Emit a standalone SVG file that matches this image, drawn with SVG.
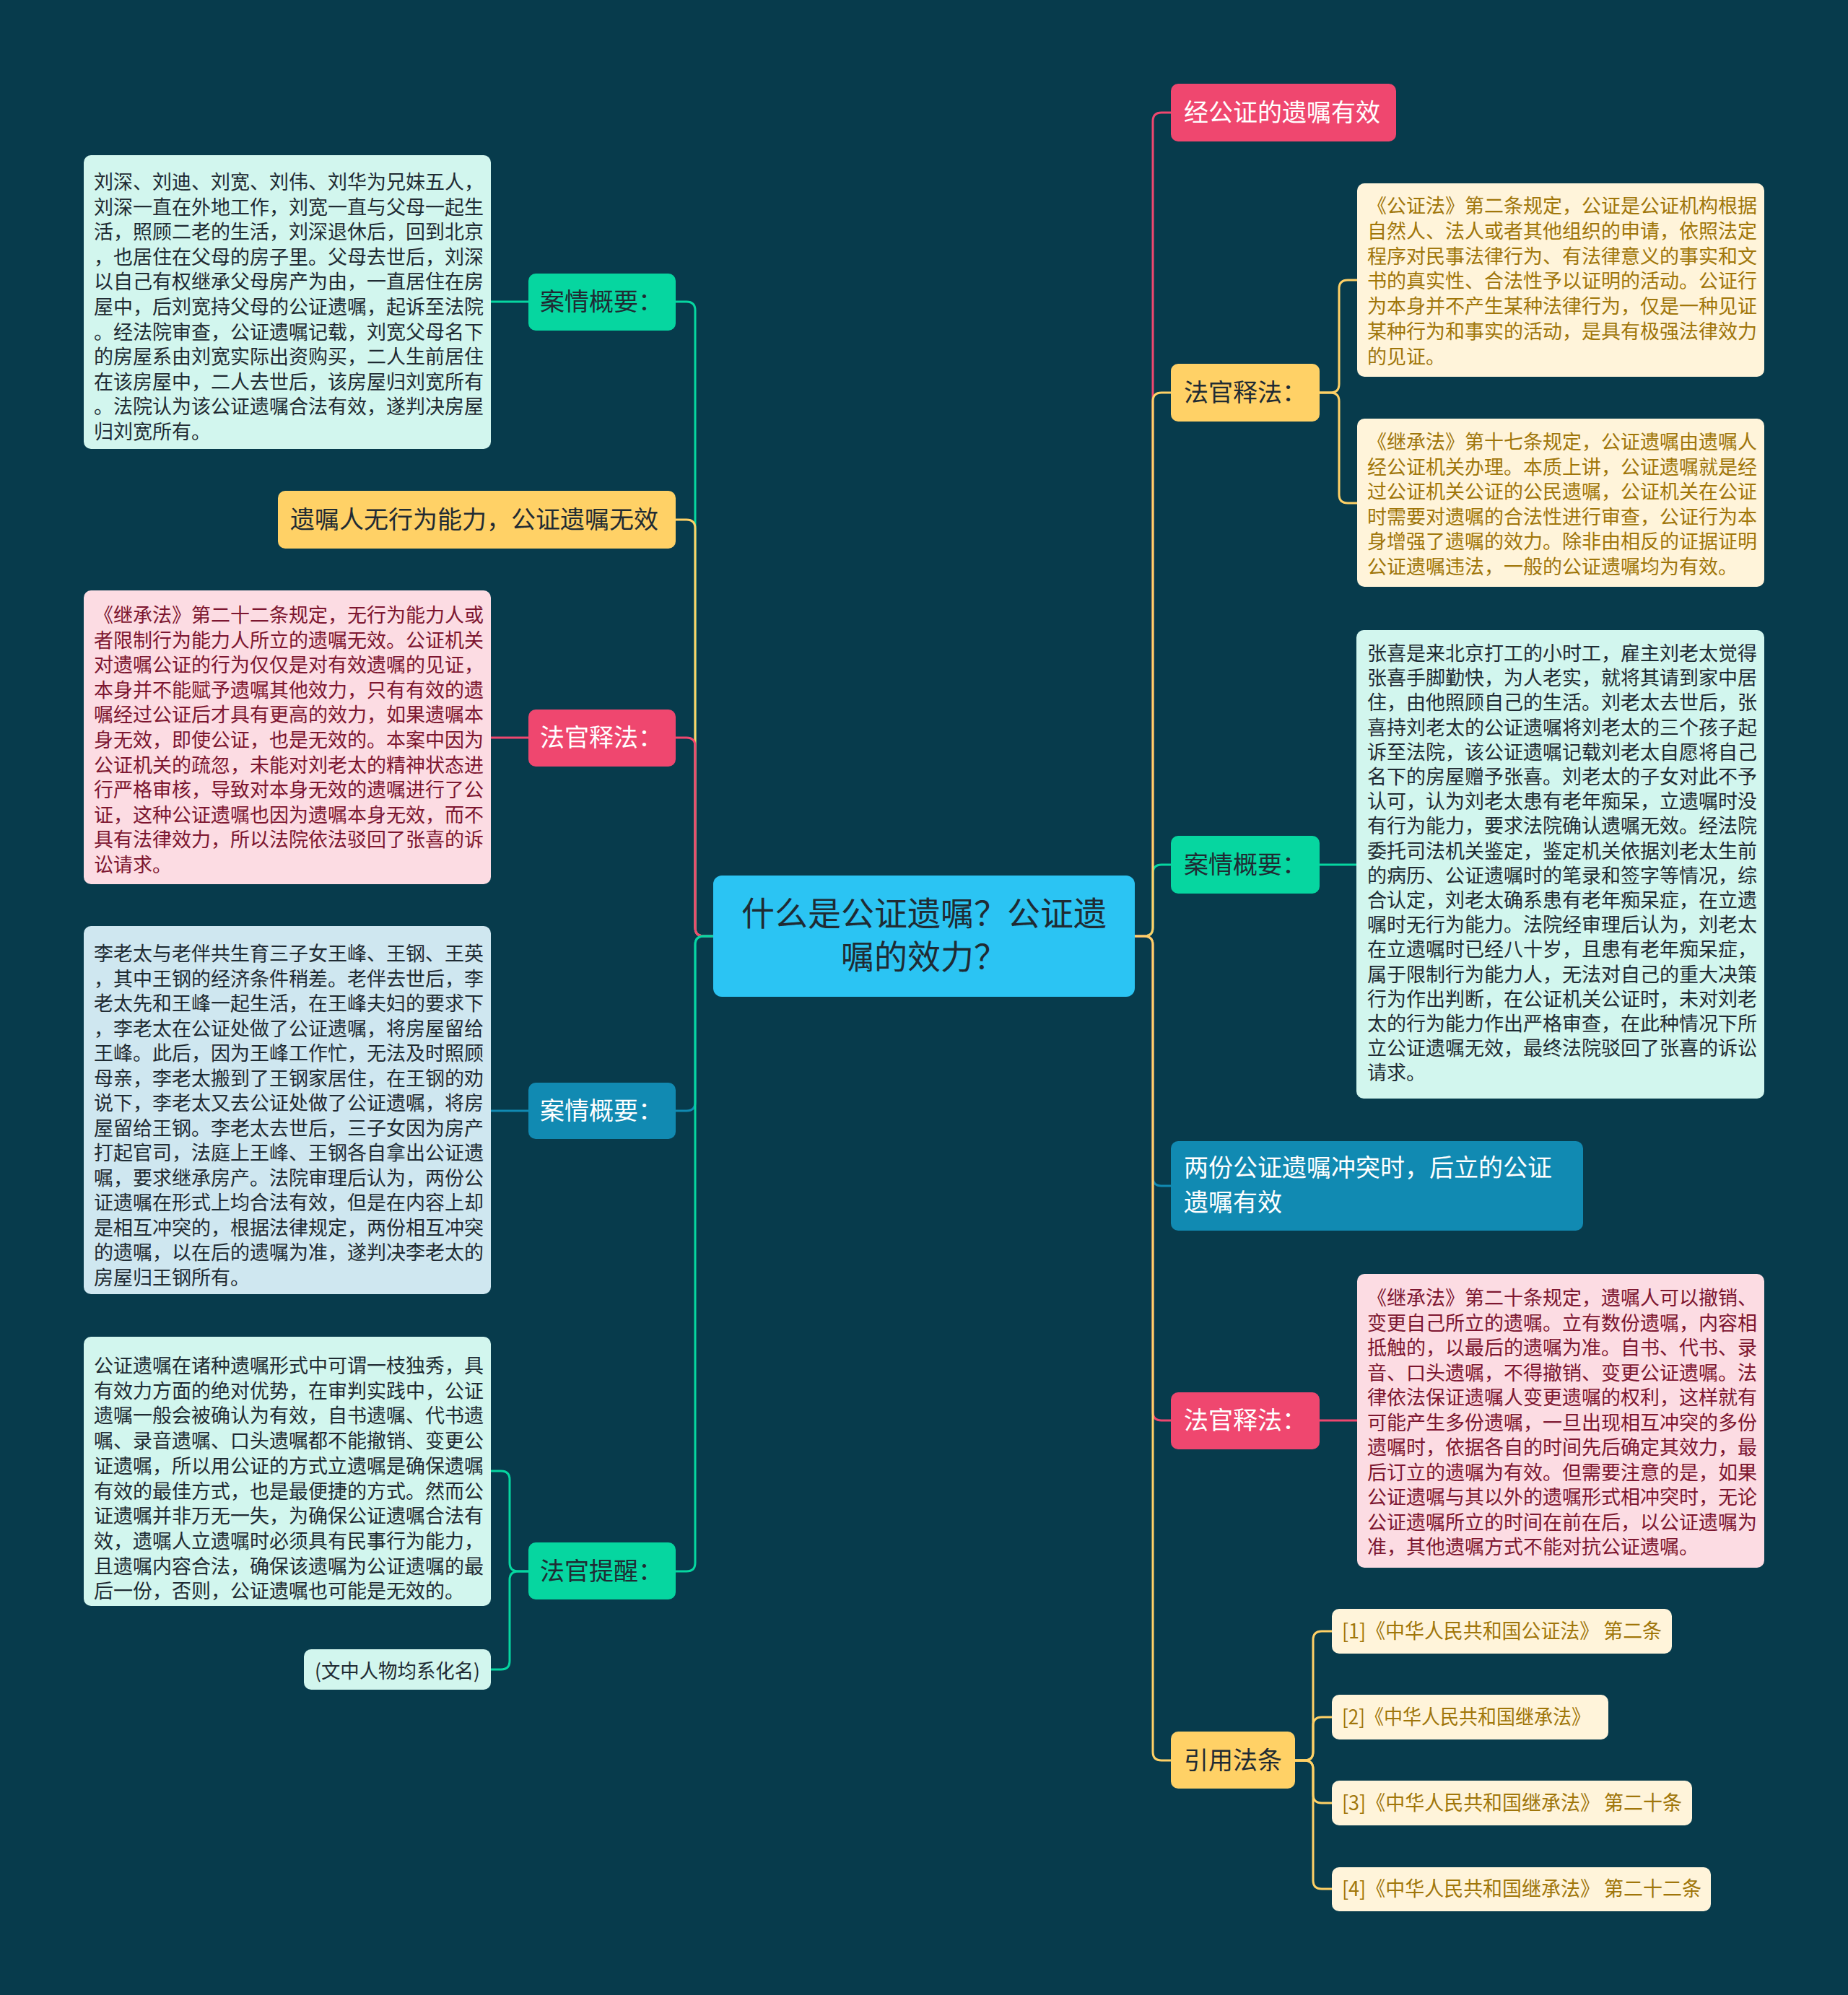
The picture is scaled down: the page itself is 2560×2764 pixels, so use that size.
<svg xmlns="http://www.w3.org/2000/svg" width="2560" height="2764" viewBox="0 0 2560 2764">
<style>
text{font-family:"Noto Sans CJK SC","Noto Sans",sans-serif}
.lf{font-size:27px}
.n1{font-size:34px}
.dk{fill:#1f2b33}
.wt{fill:#ffffff}
.rd{fill:#7d1630}
.gd{fill:#a0760a}
.c{fill:none;stroke-width:3;stroke-linecap:round}
.cT{stroke:#06d6a0}.cY{stroke:#ffd166}.cP{stroke:#ef476f}.cB{stroke:#118ab2}
</style>
<rect width="2560" height="2764" fill="#073b4c"/>
<g id="connectors">
<path class="c cT" d="M988 1297H975Q963 1297 963 1285V430Q963 418 951 418H936"/>
<path class="c cY" d="M988 1297H975Q963 1297 963 1285V732Q963 720 951 720H936"/>
<path class="c cP" d="M988 1297H975Q963 1297 963 1285V1034Q963 1022 951 1022H936"/>
<path class="c cB" d="M988 1297H975Q963 1297 963 1309V1527Q963 1539 951 1539H936"/>
<path class="c cT" d="M988 1297H975Q963 1297 963 1309V2165Q963 2177 951 2177H936"/>
<path class="c cT" d="M732 418H680"/>
<path class="c cP" d="M732 1022H680"/>
<path class="c cB" d="M732 1539H680"/>
<path class="c cT" d="M732 2177H718Q706 2177 706 2165V2050Q706 2038 694 2038H680"/>
<path class="c cT" d="M732 2177H718Q706 2177 706 2189V2301Q706 2313 694 2313H680"/>
<path class="c cP" d="M1572 1297H1585Q1597 1297 1597 1285V168Q1597 156 1609 156H1622"/>
<path class="c cT" d="M1572 1297H1585Q1597 1297 1597 1285V1210Q1597 1198 1609 1198H1622"/>
<path class="c cY" d="M1572 1297H1585Q1597 1297 1597 1285V556Q1597 544 1609 544H1622"/>
<path class="c cB" d="M1572 1297H1585Q1597 1297 1597 1309V1631Q1597 1643 1609 1643H1622"/>
<path class="c cP" d="M1572 1297H1585Q1597 1297 1597 1309V1956Q1597 1968 1609 1968H1622"/>
<path class="c cY" d="M1572 1297H1585Q1597 1297 1597 1309V2427Q1597 2439 1609 2439H1622"/>
<path class="c cY" d="M1828 544H1843Q1855 544 1855 532V400Q1855 388 1867 388H1880"/>
<path class="c cY" d="M1828 544H1843Q1855 544 1855 556V685Q1855 697 1867 697H1880"/>
<path class="c cT" d="M1828 1198H1879"/>
<path class="c cP" d="M1828 1968H1880"/>
<path class="c cY" d="M1794 2439H1807Q1819 2439 1819 2427V2272Q1819 2260 1831 2260H1845"/>
<path class="c cY" d="M1794 2439H1807Q1819 2439 1819 2427V2391Q1819 2379 1831 2379H1845"/>
<path class="c cY" d="M1794 2439H1807Q1819 2439 1819 2451V2486Q1819 2498 1831 2498H1845"/>
<path class="c cY" d="M1794 2439H1807Q1819 2439 1819 2451V2605Q1819 2617 1831 2617H1845"/>
</g>
<g id="center">
<rect x="988" y="1213" width="584" height="168" rx="12" fill="#2bc4f3"/>
<text x="1280" y="1282" font-size="46" text-anchor="middle" class="dk">什么是公证遗嘱？公证遗</text>
<text x="1280" y="1342" font-size="46" text-anchor="middle" class="dk">嘱的效力？</text>
</g>
<g id="L1">
<rect x="732" y="379" width="204" height="79" rx="10" fill="#06d6a0"/>
<text x="748" y="430" class="n1 dk">案情概要：</text>
</g>
<g id="L2">
<rect x="385" y="680" width="551" height="80" rx="10" fill="#ffd166"/>
<text x="402" y="732" class="n1 dk">遗嘱人无行为能力，公证遗嘱无效</text>
</g>
<g id="L3">
<rect x="732" y="983" width="204" height="79" rx="10" fill="#ef476f"/>
<text x="748" y="1034" class="n1 wt">法官释法：</text>
</g>
<g id="L4">
<rect x="732" y="1500" width="204" height="78" rx="10" fill="#118ab2"/>
<text x="748" y="1551" class="n1 wt">案情概要：</text>
</g>
<g id="L5">
<rect x="732" y="2137" width="204" height="79" rx="10" fill="#06d6a0"/>
<text x="748" y="2189" class="n1 dk">法官提醒：</text>
</g>
<g id="LB1">
<rect x="116" y="215" width="564" height="407" rx="10" fill="#d2f6ee"/>
<text class="lf dk" x="130" y="262"><tspan x="130">刘深、刘迪、刘宽、刘伟、刘华为兄妹五人，</tspan><tspan x="130" dy="34.6">刘深一直在外地工作，刘宽一直与父母一起生</tspan><tspan x="130" dy="34.6">活，照顾二老的生活，刘深退休后，回到北京</tspan><tspan x="130" dy="34.6">，也居住在父母的房子里。父母去世后，刘深</tspan><tspan x="130" dy="34.6">以自己有权继承父母房产为由，一直居住在房</tspan><tspan x="130" dy="34.6">屋中，后刘宽持父母的公证遗嘱，起诉至法院</tspan><tspan x="130" dy="34.6">。经法院审查，公证遗嘱记载，刘宽父母名下</tspan><tspan x="130" dy="34.6">的房屋系由刘宽实际出资购买，二人生前居住</tspan><tspan x="130" dy="34.6">在该房屋中，二人去世后，该房屋归刘宽所有</tspan><tspan x="130" dy="34.6">。法院认为该公证遗嘱合法有效，遂判决房屋</tspan><tspan x="130" dy="34.6">归刘宽所有。</tspan></text>
</g>
<g id="LB2">
<rect x="116" y="818" width="564" height="407" rx="10" fill="#fcdce3"/>
<text class="lf rd" x="130" y="862"><tspan x="130">《继承法》第二十二条规定，无行为能力人或</tspan><tspan x="130" dy="34.6">者限制行为能力人所立的遗嘱无效。公证机关</tspan><tspan x="130" dy="34.6">对遗嘱公证的行为仅仅是对有效遗嘱的见证，</tspan><tspan x="130" dy="34.6">本身并不能赋予遗嘱其他效力，只有有效的遗</tspan><tspan x="130" dy="34.6">嘱经过公证后才具有更高的效力，如果遗嘱本</tspan><tspan x="130" dy="34.6">身无效，即使公证，也是无效的。本案中因为</tspan><tspan x="130" dy="34.6">公证机关的疏忽，未能对刘老太的精神状态进</tspan><tspan x="130" dy="34.6">行严格审核，导致对本身无效的遗嘱进行了公</tspan><tspan x="130" dy="34.6">证，这种公证遗嘱也因为遗嘱本身无效，而不</tspan><tspan x="130" dy="34.6">具有法律效力，所以法院依法驳回了张喜的诉</tspan><tspan x="130" dy="34.6">讼请求。</tspan></text>
</g>
<g id="LB3">
<rect x="116" y="1283" width="564" height="510" rx="10" fill="#cfe7f0"/>
<text class="lf dk" x="130" y="1331"><tspan x="130">李老太与老伴共生育三子女王峰、王钢、王英</tspan><tspan x="130" dy="34.5">，其中王钢的经济条件稍差。老伴去世后，李</tspan><tspan x="130" dy="34.5">老太先和王峰一起生活，在王峰夫妇的要求下</tspan><tspan x="130" dy="34.5">，李老太在公证处做了公证遗嘱，将房屋留给</tspan><tspan x="130" dy="34.5">王峰。此后，因为王峰工作忙，无法及时照顾</tspan><tspan x="130" dy="34.5">母亲，李老太搬到了王钢家居住，在王钢的劝</tspan><tspan x="130" dy="34.5">说下，李老太又去公证处做了公证遗嘱，将房</tspan><tspan x="130" dy="34.5">屋留给王钢。李老太去世后，三子女因为房产</tspan><tspan x="130" dy="34.5">打起官司，法庭上王峰、王钢各自拿出公证遗</tspan><tspan x="130" dy="34.5">嘱，要求继承房产。法院审理后认为，两份公</tspan><tspan x="130" dy="34.5">证遗嘱在形式上均合法有效，但是在内容上却</tspan><tspan x="130" dy="34.5">是相互冲突的，根据法律规定，两份相互冲突</tspan><tspan x="130" dy="34.5">的遗嘱，以在后的遗嘱为准，遂判决李老太的</tspan><tspan x="130" dy="34.5">房屋归王钢所有。</tspan></text>
</g>
<g id="LB4">
<rect x="116" y="1852" width="564" height="373" rx="10" fill="#d2f6ee"/>
<text class="lf dk" x="130" y="1902"><tspan x="130">公证遗嘱在诸种遗嘱形式中可谓一枝独秀，具</tspan><tspan x="130" dy="34.7">有效力方面的绝对优势，在审判实践中，公证</tspan><tspan x="130" dy="34.7">遗嘱一般会被确认为有效，自书遗嘱、代书遗</tspan><tspan x="130" dy="34.7">嘱、录音遗嘱、口头遗嘱都不能撤销、变更公</tspan><tspan x="130" dy="34.7">证遗嘱，所以用公证的方式立遗嘱是确保遗嘱</tspan><tspan x="130" dy="34.7">有效的最佳方式，也是最便捷的方式。然而公</tspan><tspan x="130" dy="34.7">证遗嘱并非万无一失，为确保公证遗嘱合法有</tspan><tspan x="130" dy="34.7">效，遗嘱人立遗嘱时必须具有民事行为能力，</tspan><tspan x="130" dy="34.7">且遗嘱内容合法，确保该遗嘱为公证遗嘱的最</tspan><tspan x="130" dy="34.7">后一份，否则，公证遗嘱也可能是无效的。</tspan></text>
</g>
<g id="LB5">
<rect x="421" y="2285" width="259" height="56" rx="10" fill="#d2f6ee"/>
<text class="lf dk" x="436" y="2325" textLength="229" lengthAdjust="spacingAndGlyphs">(文中人物均系化名)</text>
</g>
<g id="R1">
<rect x="1622" y="116" width="312" height="80" rx="10" fill="#ef476f"/>
<text x="1640" y="168" class="n1 wt">经公证的遗嘱有效</text>
</g>
<g id="R2">
<rect x="1622" y="504" width="206" height="80" rx="10" fill="#ffd166"/>
<text x="1640" y="556" class="n1 dk">法官释法：</text>
</g>
<g id="R3">
<rect x="1622" y="1158" width="206" height="80" rx="10" fill="#06d6a0"/>
<text x="1640" y="1210" class="n1 dk">案情概要：</text>
</g>
<g id="R4">
<rect x="1622" y="1581" width="571" height="124" rx="10" fill="#118ab2"/>
<text x="1640" y="1630" class="n1 wt">两份公证遗嘱冲突时，后立的公证</text>
<text x="1640" y="1678" class="n1 wt">遗嘱有效</text>
</g>
<g id="R5">
<rect x="1622" y="1929" width="206" height="79" rx="10" fill="#ef476f"/>
<text x="1640" y="1980" class="n1 wt">法官释法：</text>
</g>
<g id="R6">
<rect x="1622" y="2399" width="172" height="79" rx="10" fill="#ffd166"/>
<text x="1640" y="2451" class="n1 dk">引用法条</text>
</g>
<g id="RB1">
<rect x="1880" y="254" width="564" height="268" rx="10" fill="#fff4da"/>
<text class="lf gd" x="1894" y="295"><tspan x="1894">《公证法》第二条规定，公证是公证机构根据</tspan><tspan x="1894" dy="34.8">自然人、法人或者其他组织的申请，依照法定</tspan><tspan x="1894" dy="34.8">程序对民事法律行为、有法律意义的事实和文</tspan><tspan x="1894" dy="34.8">书的真实性、合法性予以证明的活动。公证行</tspan><tspan x="1894" dy="34.8">为本身并不产生某种法律行为，仅是一种见证</tspan><tspan x="1894" dy="34.8">某种行为和事实的活动，是具有极强法律效力</tspan><tspan x="1894" dy="34.8">的见证。</tspan></text>
</g>
<g id="RB2">
<rect x="1880" y="580" width="564" height="233" rx="10" fill="#fff4da"/>
<text class="lf gd" x="1894" y="622"><tspan x="1894">《继承法》第十七条规定，公证遗嘱由遗嘱人</tspan><tspan x="1894" dy="34.5">经公证机关办理。本质上讲，公证遗嘱就是经</tspan><tspan x="1894" dy="34.5">过公证机关公证的公民遗嘱，公证机关在公证</tspan><tspan x="1894" dy="34.5">时需要对遗嘱的合法性进行审查，公证行为本</tspan><tspan x="1894" dy="34.5">身增强了遗嘱的效力。除非由相反的证据证明</tspan><tspan x="1894" dy="34.5">公证遗嘱违法，一般的公证遗嘱均为有效。</tspan></text>
</g>
<g id="RB3">
<rect x="1879" y="873" width="565" height="649" rx="10" fill="#d2f6ee"/>
<text class="lf dk" x="1894" y="915"><tspan x="1894">张喜是来北京打工的小时工，雇主刘老太觉得</tspan><tspan x="1894" dy="34.2">张喜手脚勤快，为人老实，就将其请到家中居</tspan><tspan x="1894" dy="34.2">住，由他照顾自己的生活。刘老太去世后，张</tspan><tspan x="1894" dy="34.2">喜持刘老太的公证遗嘱将刘老太的三个孩子起</tspan><tspan x="1894" dy="34.2">诉至法院，该公证遗嘱记载刘老太自愿将自己</tspan><tspan x="1894" dy="34.2">名下的房屋赠予张喜。刘老太的子女对此不予</tspan><tspan x="1894" dy="34.2">认可，认为刘老太患有老年痴呆，立遗嘱时没</tspan><tspan x="1894" dy="34.2">有行为能力，要求法院确认遗嘱无效。经法院</tspan><tspan x="1894" dy="34.2">委托司法机关鉴定，鉴定机关依据刘老太生前</tspan><tspan x="1894" dy="34.2">的病历、公证遗嘱时的笔录和签字等情况，综</tspan><tspan x="1894" dy="34.2">合认定，刘老太确系患有老年痴呆症，在立遗</tspan><tspan x="1894" dy="34.2">嘱时无行为能力。法院经审理后认为，刘老太</tspan><tspan x="1894" dy="34.2">在立遗嘱时已经八十岁，且患有老年痴呆症，</tspan><tspan x="1894" dy="34.2">属于限制行为能力人，无法对自己的重大决策</tspan><tspan x="1894" dy="34.2">行为作出判断，在公证机关公证时，未对刘老</tspan><tspan x="1894" dy="34.2">太的行为能力作出严格审查，在此种情况下所</tspan><tspan x="1894" dy="34.2">立公证遗嘱无效，最终法院驳回了张喜的诉讼</tspan><tspan x="1894" dy="34.2">请求。</tspan></text>
</g>
<g id="RB4">
<rect x="1880" y="1765" width="564" height="407" rx="10" fill="#fcdce3"/>
<text class="lf rd" x="1894" y="1808"><tspan x="1894">《继承法》第二十条规定，遗嘱人可以撤销、</tspan><tspan x="1894" dy="34.5">变更自己所立的遗嘱。立有数份遗嘱，内容相</tspan><tspan x="1894" dy="34.5">抵触的，以最后的遗嘱为准。自书、代书、录</tspan><tspan x="1894" dy="34.5">音、口头遗嘱，不得撤销、变更公证遗嘱。法</tspan><tspan x="1894" dy="34.5">律依法保证遗嘱人变更遗嘱的权利，这样就有</tspan><tspan x="1894" dy="34.5">可能产生多份遗嘱，一旦出现相互冲突的多份</tspan><tspan x="1894" dy="34.5">遗嘱时，依据各自的时间先后确定其效力，最</tspan><tspan x="1894" dy="34.5">后订立的遗嘱为有效。但需要注意的是，如果</tspan><tspan x="1894" dy="34.5">公证遗嘱与其以外的遗嘱形式相冲突时，无论</tspan><tspan x="1894" dy="34.5">公证遗嘱所立的时间在前在后，以公证遗嘱为</tspan><tspan x="1894" dy="34.5">准，其他遗嘱方式不能对抗公证遗嘱。</tspan></text>
</g>
<g id="REF1">
<rect x="1845" y="2229" width="471" height="62" rx="10" fill="#fff4da"/>
<text class="gd" font-size="28" x="1859" y="2270" textLength="443" lengthAdjust="spacingAndGlyphs">[1]《中华人民共和国公证法》 第二条</text>
</g>
<g id="REF2">
<rect x="1845" y="2348" width="383" height="62" rx="10" fill="#fff4da"/>
<text class="gd" font-size="28" x="1859" y="2389" textLength="344" lengthAdjust="spacingAndGlyphs">[2]《中华人民共和国继承法》</text>
</g>
<g id="REF3">
<rect x="1845" y="2467" width="499" height="62" rx="10" fill="#fff4da"/>
<text class="gd" font-size="28" x="1859" y="2508" textLength="471" lengthAdjust="spacingAndGlyphs">[3]《中华人民共和国继承法》 第二十条</text>
</g>
<g id="REF4">
<rect x="1845" y="2587" width="525" height="61" rx="10" fill="#fff4da"/>
<text class="gd" font-size="28" x="1859" y="2627" textLength="498" lengthAdjust="spacingAndGlyphs">[4]《中华人民共和国继承法》 第二十二条</text>
</g>
</svg>
